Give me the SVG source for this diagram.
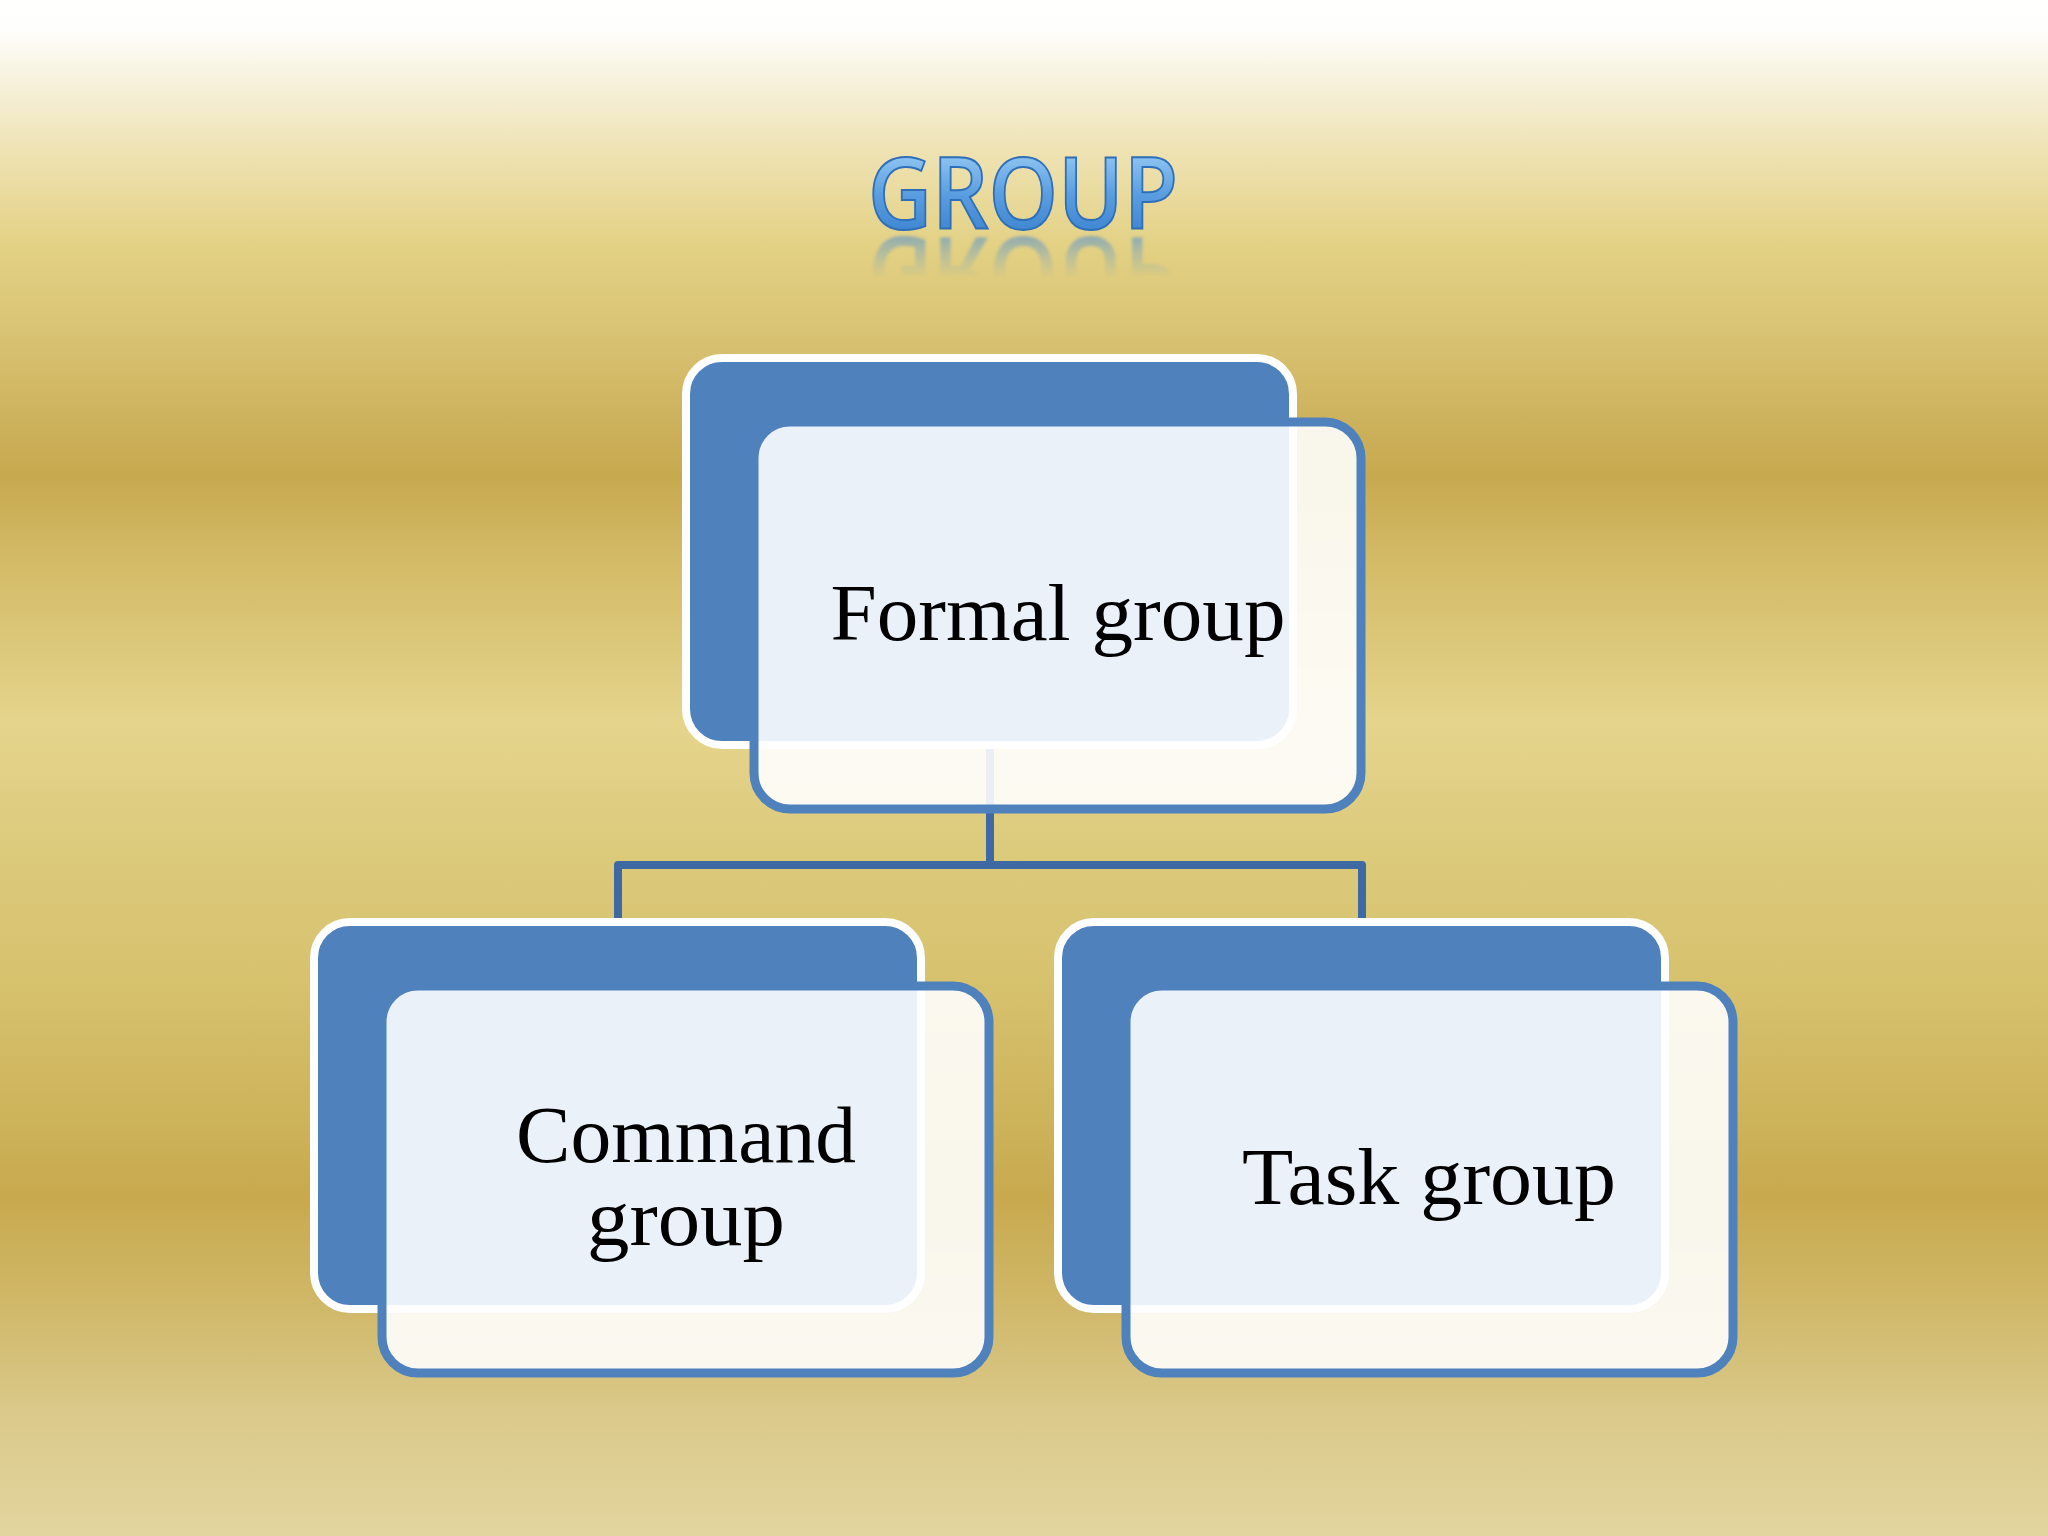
<svg xmlns="http://www.w3.org/2000/svg" width="2048" height="1536" viewBox="0 0 2048 1536">
  <defs>
    <linearGradient id="bg" x1="0" y1="0" x2="0" y2="1">
      <stop offset="0" stop-color="#ffffff"/>
      <stop offset="0.02" stop-color="#fefefb"/>
      <stop offset="0.06" stop-color="#f5efd6"/>
      <stop offset="0.10" stop-color="#eee2b2"/>
      <stop offset="0.16" stop-color="#e3d184"/>
      <stop offset="0.22" stop-color="#d8c272"/>
      <stop offset="0.28" stop-color="#ccb05a"/>
      <stop offset="0.31" stop-color="#c7a94f"/>
      <stop offset="0.36" stop-color="#d2b965"/>
      <stop offset="0.42" stop-color="#dcc87a"/>
      <stop offset="0.47" stop-color="#e5d48c"/>
      <stop offset="0.55" stop-color="#dccb7c"/>
      <stop offset="0.65" stop-color="#d6c06c"/>
      <stop offset="0.73" stop-color="#cdb35a"/>
      <stop offset="0.78" stop-color="#c8a94e"/>
      <stop offset="0.84" stop-color="#cfb665"/>
      <stop offset="0.92" stop-color="#dac98a"/>
      <stop offset="1" stop-color="#e2d59e"/>
    </linearGradient>
    <linearGradient id="titleFill" x1="0" y1="157" x2="0" y2="232" gradientUnits="userSpaceOnUse">
      <stop offset="0" stop-color="#8cc2f0"/>
      <stop offset="0.5" stop-color="#5a9ee0"/>
      <stop offset="1" stop-color="#3f86d2"/>
    </linearGradient>
    <linearGradient id="reflGrad" x1="0" y1="234" x2="0" y2="278" gradientUnits="userSpaceOnUse">
      <stop offset="0" stop-color="#fff" stop-opacity="0.55"/>
      <stop offset="1" stop-color="#fff" stop-opacity="0"/>
    </linearGradient>
    <mask id="reflMask" maskUnits="userSpaceOnUse" x="800" y="230" width="450" height="60">
      <rect x="800" y="230" width="450" height="60" fill="url(#reflGrad)"/>
    </mask>
    <filter id="soft" x="-5%" y="-20%" width="110%" height="140%">
      <feGaussianBlur stdDeviation="1.5"/>
    </filter>
    <style>
      .back { fill:#4f81bd; stroke:#ffffff; stroke-width:8; }
      .front { fill:#ffffff; fill-opacity:0.89; stroke:#4f81bd; stroke-width:9; }
      .label { font-family:"Liberation Serif", "Times New Roman", serif; font-size:81px; fill:#000000; text-anchor:middle; }
      .conn { fill:none; stroke:#3e69a2; stroke-width:8; stroke-linejoin:round; }
      .title { font-family:"Open Sans", "Liberation Sans", sans-serif; font-weight:600; font-size:100px; text-anchor:middle; fill:url(#titleFill); stroke:#2f6fb8; stroke-width:2; }
    </style>
  </defs>

  <rect x="0" y="0" width="2048" height="1536" fill="url(#bg)"/>

  <g id="title">
    <text class="title" x="1023" y="229" textLength="310" lengthAdjust="spacingAndGlyphs">GROUP</text>
    <g mask="url(#reflMask)">
      <text class="title" x="1023" y="229" textLength="310" lengthAdjust="spacingAndGlyphs" transform="matrix(1,0,0,-1,0,466)" style="stroke:none" filter="url(#soft)">GROUP</text>
    </g>
  </g>

  <g id="connectors">
    <path class="conn" d="M990,748 V865"/>
    <path class="conn" d="M618,922 V865 H1362 V922"/>
  </g>

  <g id="node-formal">
    <rect class="back" x="686" y="358" width="607" height="387" rx="36" ry="36"/>
    <rect class="front" x="754" y="422" width="607" height="387" rx="36" ry="36"/>
    <text class="label" x="1058" y="640" textLength="455" lengthAdjust="spacingAndGlyphs">Formal group</text>
  </g>

  <g id="node-command">
    <rect class="back" x="314" y="922" width="607" height="387" rx="36" ry="36"/>
    <rect class="front" x="382" y="986" width="607" height="387" rx="36" ry="36"/>
    <text class="label" x="686" y="1162" textLength="340" lengthAdjust="spacingAndGlyphs">Command</text>
    <text class="label" x="686" y="1245" textLength="198" lengthAdjust="spacingAndGlyphs">group</text>
  </g>

  <g id="node-task">
    <rect class="back" x="1058" y="922" width="607" height="387" rx="36" ry="36"/>
    <rect class="front" x="1126" y="986" width="607" height="387" rx="36" ry="36"/>
    <text class="label" x="1429" y="1204" textLength="374" lengthAdjust="spacingAndGlyphs">Task group</text>
  </g>
</svg>
